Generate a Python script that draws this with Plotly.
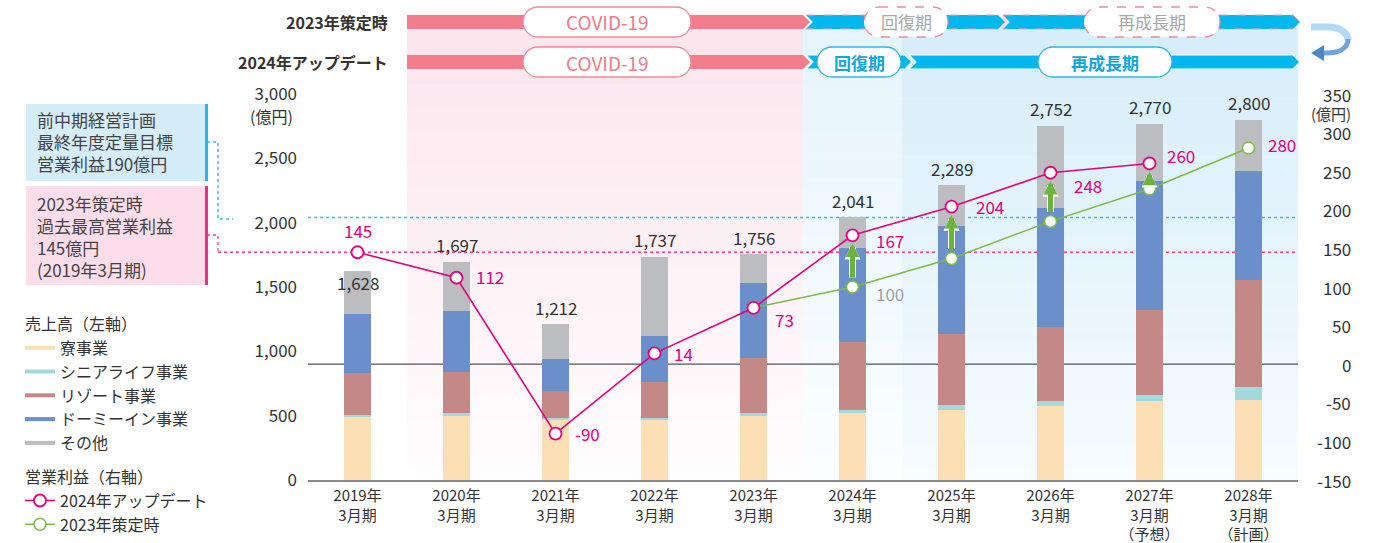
import plotly.graph_objects as go

# ---------------- data ----------------
tick_labels = ["2019年<br>3月期", "2020年<br>3月期", "2021年<br>3月期", "2022年<br>3月期",
               "2023年<br>3月期", "2024年<br>3月期", "2025年<br>3月期", "2026年<br>3月期",
               "2027年<br>3月期<br>（予想）", "2028年<br>3月期<br>（計画）"]
sales_dorm = [492, 500, 466, 466, 497, 523, 544, 575, 614, 622]        # 寮事業
sales_senior = [16, 21, 18, 18, 23, 23, 41, 41, 47, 103]               # シニアライフ事業
sales_resort = [326, 321, 207, 280, 427, 528, 552, 573, 660, 829]      # リゾート事業
sales_dormyinn = [458, 472, 249, 357, 583, 729, 839, 927, 1002, 847]   # ドーミーイン事業
sales_other = [336, 383, 272, 616, 226, 238, 313, 636, 447, 399]       # その他
sales_total = [1628, 1697, 1212, 1737, 1756, 2041, 2289, 2752, 2770, 2800]
profit_2024 = [145, 112, -90, 14, 73, 167, 204, 248, 260, None]        # 2024年アップデート
profit_2023 = [None, None, None, None, 73, 100, 137, 185, 227, 280]    # 2023年策定時
left_ticks = [0, 500, 1000, 1500, 2000, 2500, 3000]
right_ticks = [-150, -100, -50, 0, 50, 100, 150, 200, 250, 300, 350]
target_prev_plan = 190
record_2019 = 145

# ---------------- style ----------------
FONT = "Noto Sans CJK JP, Noto Sans, sans-serif"
TXT = "#333333"
C_DORM, C_SEN, C_RES, C_DI, C_OTH = "#fcdfb5", "#a3d8dc", "#c48886", "#6a8fca", "#bcbdc1"
MAG, GRN = "#e4007f", "#7dbb42"
PINKBAND, BLUEBAND = "#f27d8c", "#00b7ee"

W, H = 1382, 543
L, R, T, B = 308, 84, 5, 63
PW, PH = W - L - R, H - T - B


def PX(px):
    return (px - L) / PW


def PY(py):
    return (H - B - py) / PH


idx = list(range(len(tick_labels)))
fig = go.Figure()

names = ["寮事業", "シニアライフ事業", "リゾート事業", "ドーミーイン事業", "その他"]
series = [sales_dorm, sales_senior, sales_resort, sales_dormyinn, sales_other]
colors = [C_DORM, C_SEN, C_RES, C_DI, C_OTH]
for n, s, c in zip(names, series, colors):
    fig.add_trace(go.Bar(x=idx, y=s, name=n, marker=dict(color=c, line=dict(width=0)),
                         width=0.263, showlegend=False, yaxis="y"))

# legend entries for sales (line swatches)
for k, (n, c) in enumerate(zip(names, colors)):
    kw = {}
    if k == 0:
        kw["legendgrouptitle"] = dict(text="売上高（左軸）", font=dict(size=16, color=TXT))
    fig.add_trace(go.Scatter(x=[None], y=[None], mode="lines", name=n,
                             line=dict(color=c, width=4), legendgroup="sales", legendrank=k + 1, **kw))

fig.add_trace(go.Scatter(x=idx, y=profit_2023, mode="lines+markers", name="2023年策定時",
                         yaxis="y2", line=dict(color=GRN, width=1.5),
                         marker=dict(size=12, color="white", line=dict(color=GRN, width=1.5)),
                         legendgroup="profit", legendrank=7))
fig.add_trace(go.Scatter(x=idx, y=profit_2024, mode="lines+markers", name="2024年アップデート",
                         yaxis="y2", line=dict(color=MAG, width=1.6),
                         marker=dict(size=12, color="white", line=dict(color=MAG, width=1.8)),
                         legendgroup="profit", legendrank=6,
                         legendgrouptitle=dict(text="営業利益（右軸）", font=dict(size=16, color=TXT))))

shapes = []
ann = []


# ---------- background gradients ----------
def grad(x0, x1, ytop, ybot, ctop, cbot, n=40):
    for i in range(n):
        f = (i + 0.5) / n
        col = tuple(round(ctop[j] + (cbot[j] - ctop[j]) * f) for j in range(3))
        y0 = ytop + (ybot - ytop) * i / n
        y1 = ytop + (ybot - ytop) * (i + 1) / n
        shapes.append(dict(type="rect", xref="x", yref="paper", x0=x0, x1=x1,
                           y0=PY(y1), y1=PY(y0) + 0.001, fillcolor="rgb(%d,%d,%d)" % col,
                           line=dict(width=0), layer="below"))


grad(0.5, 4.5, 15, 480, (251, 228, 237), (255, 253, 254))
grad(4.5, 5.5, 18, 480, (229, 244, 252), (251, 254, 255))
grad(5.5, 9.5, 18, 480, (213, 237, 250), (247, 252, 255))

# zero line (right axis) and reference dotted lines
shapes.append(dict(type="line", xref="paper", yref="y2", x0=0, x1=1, y0=0, y1=0,
                   line=dict(color="#555555", width=1.2), layer="below"))
shapes.append(dict(type="line", xref="paper", yref="y2", x0=0, x1=1, y0=target_prev_plan,
                   y1=target_prev_plan, line=dict(color="#3dbbea", width=1.5, dash="dot"), layer="below"))
shapes.append(dict(type="line", xref="paper", yref="y2", x0=PX(218), x1=1, y0=record_2019,
                   y1=record_2019, line=dict(color="#ec3d95", width=1.3, dash="dot"), layer="below"))
# connectors outside plot
shapes.append(dict(type="path", xref="paper", yref="paper",
                   path="M %f,%f L %f,%f L %f,%f L %f,%f" % (PX(207), PY(142), PX(218), PY(142), PX(218), PY(219), PX(233), PY(219)),
                   line=dict(color="#3dbbea", width=1.5, dash="dot")))
shapes.append(dict(type="path", xref="paper", yref="paper",
                   path="M %f,%f L %f,%f L %f,%f" % (PX(207), PY(235), PX(218), PY(235), PX(218), PY(253)),
                   line=dict(color="#ec3d95", width=1.3, dash="dot")))

# left boxes
shapes.append(dict(type="rect", xref="paper", yref="paper", x0=PX(26), x1=PX(206), y0=PY(181), y1=PY(104),
                   fillcolor="#d5ecf9", line=dict(width=0)))
shapes.append(dict(type="line", xref="paper", yref="paper", x0=PX(206.5), x1=PX(206.5), y0=PY(181), y1=PY(104),
                   line=dict(color="#29b5e8", width=3)))
shapes.append(dict(type="rect", xref="paper", yref="paper", x0=PX(26), x1=PX(206), y0=PY(285), y1=PY(186),
                   fillcolor="#fcdde9", line=dict(width=0)))
shapes.append(dict(type="line", xref="paper", yref="paper", x0=PX(206.5), x1=PX(206.5), y0=PY(285), y1=PY(186),
                   line=dict(color="#e8318a", width=3)))
ann.append(dict(xref="paper", yref="paper", x=PX(35), y=PY(142), xanchor="left", yanchor="middle",
                text="前中期経営計画<br>最終年度定量目標<br>営業利益190億円", align="left", showarrow=False,
                font=dict(size=17, color="#444444")))
ann.append(dict(xref="paper", yref="paper", x=PX(35), y=PY(236), xanchor="left", yanchor="middle",
                text="2023年策定時<br>過去最高営業利益<br>145億円<br>(2019年3月期)", align="left", showarrow=False,
                font=dict(size=17, color="#444444")))


# ---------- banner ----------
def poly(pts, fill, line_color="white", lw=1.2, dash=None):
    p = "M " + " L ".join("%f,%f" % (PX(x), PY(y)) for x, y in pts) + " Z"
    ln = dict(color=line_color, width=lw)
    if dash:
        ln["dash"] = dash
    shapes.append(dict(type="path", xref="paper", yref="paper", path=p, fillcolor=fill, line=ln))


def pill(x0, x1, y0, y1, border, dash=None, lw=1.3):
    r = (y1 - y0) / 2
    yc = (y0 + y1) / 2
    k = 0.5523 * r

    def P(x, y):
        return "%f,%f" % (PX(x), PY(y))
    p = ("M " + P(x0 + r, y0) + " L " + P(x1 - r, y0) +
         " C " + P(x1 - r + k, y0) + " " + P(x1, yc - k) + " " + P(x1, yc) +
         " C " + P(x1, yc + k) + " " + P(x1 - r + k, y1) + " " + P(x1 - r, y1) +
         " L " + P(x0 + r, y1) +
         " C " + P(x0 + r - k, y1) + " " + P(x0, yc + k) + " " + P(x0, yc) +
         " C " + P(x0, yc - k) + " " + P(x0 + r - k, y0) + " " + P(x0 + r, y0) + " Z")
    ln = dict(color=border, width=lw)
    if dash:
        ln["dash"] = dash
    shapes.append(dict(type="path", xref="paper", yref="paper", path=p, fillcolor="white", line=ln))


for yc in (22, 62):
    y0, y1 = yc - 7, yc + 7
    poly([(407, y0), (803, y0), (810, yc), (803, y1), (407, y1)], PINKBAND, lw=0)
# row 1 blue
poly([(806, 15), (998, 15), (1005, 22), (998, 29), (806, 29), (813, 22)], BLUEBAND, line_color="#f3a0ab", lw=1, dash="dash")
poly([(1003, 15), (1293, 15), (1300, 22), (1293, 29), (1003, 29), (1010, 22)], BLUEBAND, line_color="#f3a0ab", lw=1, dash="dash")
# row 2 blue
poly([(806, 55), (905, 55), (912, 62), (905, 69), (806, 69), (813, 62)], BLUEBAND, lw=1.2)
poly([(909, 55), (1293, 55), (1300, 62), (1293, 69), (909, 69), (916, 62)], BLUEBAND, lw=1.2)

pill(523, 691, 7, 37, "#f28b98")
pill(523, 691, 47, 77, "#f28b98")
pill(864, 948, 7, 37, "#f08a98", dash="dash")
pill(1084, 1220, 7, 37, "#f08a98", dash="dash")
pill(817, 901, 47, 77, "#2fb6e9")
pill(1038, 1172, 47, 77, "#2fb6e9")

for x, y, t, c, b, s in [(607, 22, "COVID-19", "#f07c8a", False, 19), (607, 62, "COVID-19", "#f07c8a", False, 19),
                         (906, 22, "回復期", "#a8a8a8", False, 17), (1152, 22, "再成長期", "#a8a8a8", False, 17),
                         (859, 62, "回復期", "#14a5dc", True, 17), (1105, 62, "再成長期", "#14a5dc", True, 17)]:
    ann.append(dict(xref="paper", yref="paper", x=PX(x), y=PY(y), text="<b>%s</b>" % t if b else t,
                    showarrow=False, xanchor="center", yanchor="middle", font=dict(size=s, color=c)))

ann.append(dict(xref="paper", yref="paper", x=PX(390), y=PY(22), text="<b>2023年策定時</b>", showarrow=False,
                xanchor="right", yanchor="middle", font=dict(size=16, color=TXT)))
ann.append(dict(xref="paper", yref="paper", x=PX(390), y=PY(62), text="<b>2024年アップデート</b>", showarrow=False,
                xanchor="right", yanchor="middle", font=dict(size=16, color=TXT)))

# curved arrow (two tones to suggest gradient)
shapes.append(dict(type="path", xref="paper", yref="paper",
                   path="M %f,%f L %f,%f C %f,%f %f,%f %f,%f" % (
                       PX(1311), PY(27), PX(1328), PY(27), PX(1340), PY(27), PX(1348), PY(33),
                       PX(1348), PY(40)),
                   line=dict(color="#b3daf3", width=7)))
shapes.append(dict(type="path", xref="paper", yref="paper",
                   path="M %f,%f C %f,%f %f,%f %f,%f L %f,%f" % (
                       PX(1348), PY(39), PX(1348), PY(49), PX(1338), PY(53), PX(1326), PY(53),
                       PX(1321), PY(53)),
                   line=dict(color="#6fa5dc", width=5)))
poly([(1311, 53), (1324, 45), (1324, 61)], "#4c86c6", lw=0)

# ---------- value labels ----------
for i, v in enumerate(sales_total):
    ann.append(dict(x=i, y=v, xref="x", yref="y", text=f"{v:,}", showarrow=False, yanchor="middle",
                    yshift=(-12 if i == 0 else 17), font=dict(size=17, color=TXT)))

p_shift = [(0, 22, "center"), (17, 1, "left"), (17, 0, "left"), (17, 0, "left"), (19, -12, "left"),
           (21, -5, "left"), (22, 0, "left"), (21, -13, "left"), (15, 8, "left"), (None, None, None)]
for i, v in enumerate(profit_2024):
    if v is None:
        continue
    dx, dy, xa = p_shift[i]
    ann.append(dict(x=i, y=v, xref="x", yref="y2", text=str(v), showarrow=False, xanchor=xa, yanchor="middle",
                    xshift=dx, yshift=dy, font=dict(size=17, color=MAG)))
ann.append(dict(x=5, y=profit_2023[5], xref="x", yref="y2", text=str(profit_2023[5]), showarrow=False,
                xanchor="left", yanchor="middle", xshift=21, yshift=-6, font=dict(size=17, color="#a0a0a0")))
ann.append(dict(x=9, y=profit_2023[9], xref="x", yref="y2", text=str(profit_2023[9]), showarrow=False,
                xanchor="left", yanchor="middle", xshift=17, yshift=4, font=dict(size=17, color=MAG)))

# green up-arrows (white outline underneath)
for i in range(5, 9):
    for col, w, sz in (("white", 7, 0.46), ("#6cb33e", 5, 0.55)):
        ann.append(dict(x=i, y=profit_2024[i], ax=i, ay=profit_2023[i], xref="x", yref="y2",
                        axref="x", ayref="y2", text="", showarrow=True, arrowhead=2, arrowsize=sz,
                        arrowwidth=w, arrowcolor=col, standoff=8, startstandoff=8))

# right axis labels
for v in right_ticks:
    ann.append(dict(xref="paper", yref="y2", x=PX(1353), y=v, text=str(v), showarrow=False,
                    xanchor="right", yanchor="middle", font=dict(size=17, color=TXT)))
ann.append(dict(xref="paper", yref="paper", x=PX(1353), y=PY(114), text="(億円)", showarrow=False,
                xanchor="right", yanchor="middle", font=dict(size=15, color=TXT)))
ann.append(dict(xref="paper", yref="paper", x=PX(271), y=PY(116), text="(億円)", showarrow=False,
                xanchor="center", yanchor="middle", font=dict(size=16, color=TXT)))

left_range_top = 3000 * PH / (480 - 94)
right_span = 500 * PH / (480 - 94)

fig.update_layout(
    width=W, height=H, margin=dict(l=L, r=R, t=T, b=B, autoexpand=False),
    paper_bgcolor="white", plot_bgcolor="rgba(0,0,0,0)",
    font=dict(family=FONT, color=TXT, size=16),
    barmode="stack", bargap=0,
    xaxis=dict(range=[-0.5, 9.5], tickvals=idx, ticktext=tick_labels, showgrid=False, zeroline=False,
               showline=True, linecolor="#8a8a8a", linewidth=2, ticks="", tickfont=dict(size=15, color=TXT),
               ticklabelstandoff=1, automargin=False, fixedrange=True),
    yaxis=dict(range=[0, left_range_top], tickvals=left_ticks, tickformat=",", showgrid=False, zeroline=False,
               showline=False, ticks="", ticklabelstandoff=10, tickfont=dict(size=17, color=TXT), automargin=False),
    yaxis2=dict(range=[-150, -150 + right_span], overlaying="y", side="right", showgrid=False, zeroline=False,
                showticklabels=False, showline=False, automargin=False),
    legend=dict(x=PX(20), y=PY(307), xanchor="left", yanchor="top", traceorder="grouped",
                tracegroupgap=10, bgcolor="rgba(0,0,0,0)", font=dict(size=16, color=TXT), itemwidth=30),
    shapes=shapes, annotations=ann,
)

fig.write_html("out.html")
